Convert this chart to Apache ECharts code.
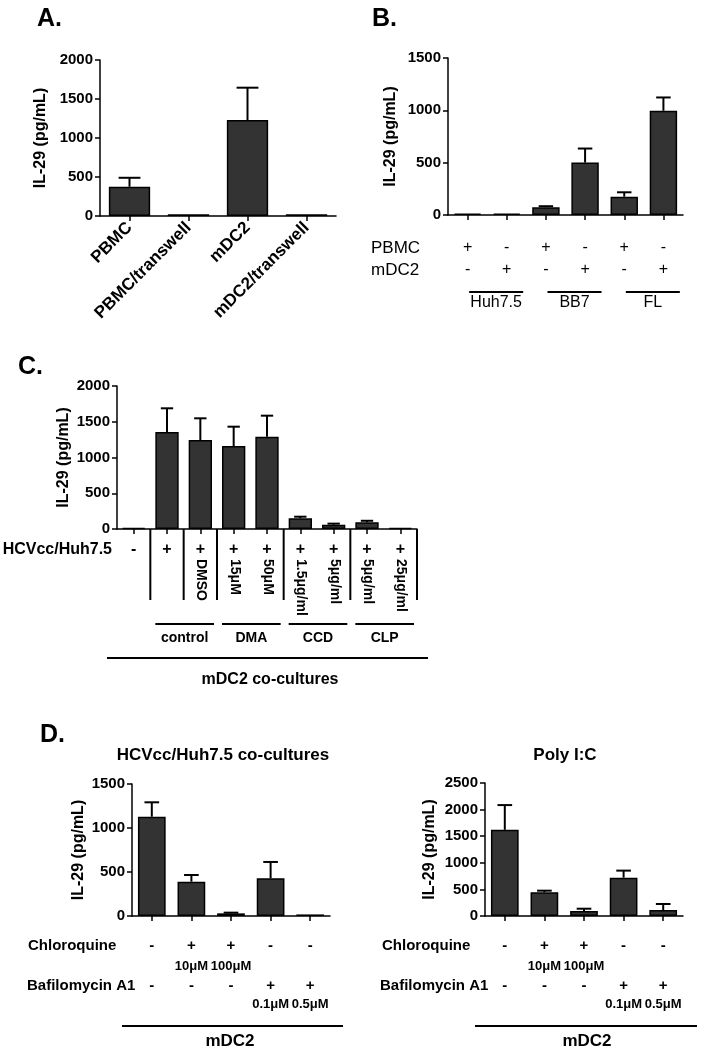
<!DOCTYPE html>
<html>
<head>
<meta charset="utf-8">
<script src="https://cdn.jsdelivr.net/npm/echarts/dist/echarts.min.js"></script>
<style>
html, body { margin: 0; padding: 0; background: #fff; }
#main { width: 701px; height: 1049px; }
</style>
</head>
<body>
<div id="main"></div>
<script>
// A. transwell
var aCats = ['PBMC', 'PBMC/transwell', 'mDC2', 'mDC2/transwell'];
var aMean = [375, 22, 1230, 22];
var aErr = [115, 0, 415, 0];

// B. PBMC vs mDC2 on Huh7.5 / BB7 / FL
var bCats = ['Huh7.5 PBMC', 'Huh7.5 mDC2', 'BB7 PBMC', 'BB7 mDC2', 'FL PBMC', 'FL mDC2'];
var bMean = [12, 12, 74, 501, 175, 996];
var bErr = [0, 0, 10, 134, 42, 127];
var bPbmc = ['+', '-', '+', '-', '+', '-'];
var bMdc2 = ['-', '+', '-', '+', '-', '+'];
var bGroups = ['Huh7.5', 'BB7', 'FL'];

// C. inhibitors, mDC2 co-cultures
var cCats = ['none', 'control', 'DMSO', 'DMA 15', 'DMA 50', 'CCD 1.5', 'CCD 5', 'CLP 5', 'CLP 25'];
var cMean = [15, 1357, 1245, 1161, 1291, 150, 60, 95, 15];
var cErr = [0, 331, 303, 270, 294, 22, 15, 20, 0];
var cHcv = ['-', '+', '+', '+', '+', '+', '+', '+', '+'];
var cDose = ['', '', 'DMSO', '15\u03bcM', '50\u03bcM', '1.5\u03bcg/ml', '5\u03bcg/ml', '5\u03bcg/ml', '25\u03bcg/ml'];
var cGroups = ['control', 'DMA', 'CCD', 'CLP'];
var cGroupSpan = [[1, 2], [3, 4], [5, 6], [7, 8]];
var cDividers = [0, 1, 2, 4, 6, 8];

// D. chloroquine / bafilomycin
var dCats = ['none', 'CQ 10', 'CQ 100', 'Baf 0.1', 'Baf 0.5'];
var d1Mean = [1128, 390, 30, 428, 18];
var d1Err = [164, 76, 8, 186, 0];
var d2Mean = [1620, 446, 94, 721, 113];
var d2Err = [465, 30, 43, 132, 113];
var dChloro = ['-', '+', '+', '-', '-'];
var dChloroConc = ['', '10\u03bcM', '100\u03bcM', '', ''];
var dBafilo = ['-', '-', '-', '+', '+'];
var dBafiloConc = ['', '', '', '0.1\u03bcM', '0.5\u03bcM'];

var FONT = '"Liberation Sans", Arial, Helvetica, sans-serif';

var grids = [
    {left: 100, top: 60, width: 236, height: 156},
    {left: 448, top: 58, width: 235, height: 157},
    {left: 117, top: 386, width: 300, height: 143},
    {left: 132, top: 784, width: 198, height: 132},
    {left: 485, top: 783, width: 198, height: 133}
];
var yMax = [2000, 1500, 2000, 1500, 2500];
var nameGaps = [51, 49, 45, 45, 47];
var allCats = [aCats, bCats, cCats, dCats, dCats];
var allMean = [aMean, bMean, cMean, d1Mean, d2Mean];
var allErr = [aErr, bErr, cErr, d1Err, d2Err];

var blackLine = {color: '#000', width: 1.5};

var xAxes = [], yAxes = [], series = [];
for (var i = 0; i < 5; i++) {
    xAxes.push({
        gridIndex: i,
        type: 'category',
        data: allCats[i],
        axisLine: {show: true, lineStyle: blackLine},
        axisTick: {show: true, alignWithLabel: true, length: 5, lineStyle: blackLine},
        axisLabel: {
            show: i === 0,
            interval: 0,
            rotate: 45,
            margin: 9,
            color: '#000',
            fontWeight: 'bold',
            fontSize: 17,
            fontFamily: FONT
        },
        splitLine: {show: false}
    });
    yAxes.push({
        gridIndex: i,
        type: 'value',
        min: 0,
        max: yMax[i],
        interval: 500,
        axisLine: {show: true, lineStyle: blackLine},
        axisTick: {show: true, length: 5, lineStyle: blackLine},
        axisLabel: {
            color: '#000', fontWeight: 'bold', fontSize: 15, fontFamily: FONT, margin: 7,
            formatter: function (v) { return String(v); }
        },
        splitLine: {show: false},
        name: 'IL-29 (pg/mL)',
        nameLocation: 'middle',
        nameGap: nameGaps[i],
        nameTextStyle: {color: '#000', fontWeight: 'bold', fontSize: 16, fontFamily: FONT}
    });
    series.push({
        type: 'bar',
        xAxisIndex: i,
        yAxisIndex: i,
        data: allMean[i],
        barWidth: '70%',
        silent: true,
        itemStyle: {color: '#333333', borderColor: '#000', borderWidth: 1.5}
    });
    series.push({
        type: 'custom',
        xAxisIndex: i,
        yAxisIndex: i,
        silent: true,
        z: 3,
        data: allMean[i].map(function (m, k) { return [k, m, m + this[k]]; }, allErr[i]),
        renderItem: function (params, api) {
            if (api.value(2) <= api.value(1)) return null;
            var lo = api.coord([api.value(0), api.value(1)]);
            var hi = api.coord([api.value(0), api.value(2)]);
            var half = api.size([1, 0])[0] * 0.185;
            var st = {stroke: '#000', lineWidth: 2};
            return {
                type: 'group',
                children: [
                    {type: 'line', shape: {x1: lo[0], y1: lo[1], x2: hi[0], y2: hi[1]}, style: st},
                    {type: 'line', shape: {x1: hi[0] - half, y1: hi[1], x2: hi[0] + half, y2: hi[1]}, style: st}
                ]
            };
        }
    });
}

var chart = echarts.init(document.getElementById('main'));
chart.setOption({
    animation: false,
    backgroundColor: '#fff',
    grid: grids,
    xAxis: xAxes,
    yAxis: yAxes,
    series: series
});

function px(i, k) {
    return chart.convertToPixel({xAxisIndex: i}, k);
}
function txt(x, y, s, font, align, extra) {
    var el = {
        type: 'text', x: x, y: y, silent: true,
        style: {
            text: s, fill: '#000', font: font,
            align: align || 'center', verticalAlign: 'middle',
            textAlign: align || 'center', textVerticalAlign: 'middle'
        }
    };
    if (extra) for (var key in extra) el[key] = extra[key];
    return el;
}
function line(x1, y1, x2, y2) {
    return {type: 'line', silent: true, shape: {x1: x1, y1: y1, x2: x2, y2: y2}, style: {stroke: '#000', lineWidth: 2}};
}

var g = [];
var bold = function (n) { return 'bold ' + n + 'px ' + FONT; };
var norm = function (n) { return n + 'px ' + FONT; };

// panel letters
g.push(txt(37, 19, 'A.', bold(25), 'left'));
g.push(txt(372, 19, 'B.', bold(25), 'left'));
g.push(txt(18, 367, 'C.', bold(25), 'left'));
g.push(txt(40, 735, 'D.', bold(25), 'left'));

// B labels
g.push(txt(371, 248, 'PBMC', norm(17), 'left'));
g.push(txt(371, 270, 'mDC2', norm(17), 'left'));
for (var k = 0; k < bCats.length; k++) {
    g.push(txt(px(1, k), 248, bPbmc[k], norm(16)));
    g.push(txt(px(1, k), 270, bMdc2[k], norm(16)));
}
for (var j = 0; j < bGroups.length; j++) {
    var mid = (px(1, 2 * j) + px(1, 2 * j + 1)) / 2 + 9;
    g.push(line(mid - 27, 292, mid + 27, 292));
    g.push(txt(mid, 303, bGroups[j], norm(16)));
}

// C labels
var cHalf = (px(2, 1) - px(2, 0)) / 2;
g.push(txt(112, 550, 'HCVcc/Huh7.5', bold(16), 'right'));
for (k = 0; k < cCats.length; k++) {
    g.push(txt(px(2, k), 550, cHcv[k], bold(16)));
    if (cDose[k]) {
        g.push(txt(px(2, k) + 1, 559, cDose[k], bold(14), 'left', {rotation: -Math.PI / 2}));
    }
}
cDividers.forEach(function (k) {
    var x = px(2, k) + cHalf;
    g.push(line(x, 529, x, 600));
});
for (j = 0; j < cGroups.length; j++) {
    var l = px(2, cGroupSpan[j][0]) - cHalf + 5;
    var r = px(2, cGroupSpan[j][1]) + cHalf - 3;
    g.push(line(l, 624, r, 624));
    g.push(txt((l + r) / 2, 638, cGroups[j], bold(14)));
}
g.push(line(107, 658, 428, 658));
g.push(txt(270, 680, 'mDC2 co-cultures', bold(16)));

// D labels
var dTitles = ['HCVcc/Huh7.5 co-cultures', 'Poly I:C'];
var dTitleX = [223, 565];
var dRowX = [[28, 27], [382, 380]];
var dLine = [[122, 343], [475, 697]];
var dMdcX = [230, 587];
for (var p = 0; p < 2; p++) {
    var ai = 3 + p;
    g.push(txt(dTitleX[p], 755, dTitles[p], bold(17)));
    g.push(txt(dRowX[p][0], 946, 'Chloroquine', bold(15), 'left'));
    g.push(txt(dRowX[p][1], 986, 'Bafilomycin A1', bold(15), 'left'));
    for (k = 0; k < dCats.length; k++) {
        var x = px(ai, k);
        g.push(txt(x, 946, dChloro[k], bold(15)));
        g.push(txt(x, 986, dBafilo[k], bold(15)));
        if (dChloroConc[k]) g.push(txt(x, 966, dChloroConc[k], bold(13)));
        if (dBafiloConc[k]) g.push(txt(x, 1004, dBafiloConc[k], bold(13)));
    }
    g.push(line(dLine[p][0], 1026, dLine[p][1], 1026));
    g.push(txt(dMdcX[p], 1041, 'mDC2', bold(17)));
}

chart.setOption({graphic: {elements: g}});
</script>
</body>
</html>
